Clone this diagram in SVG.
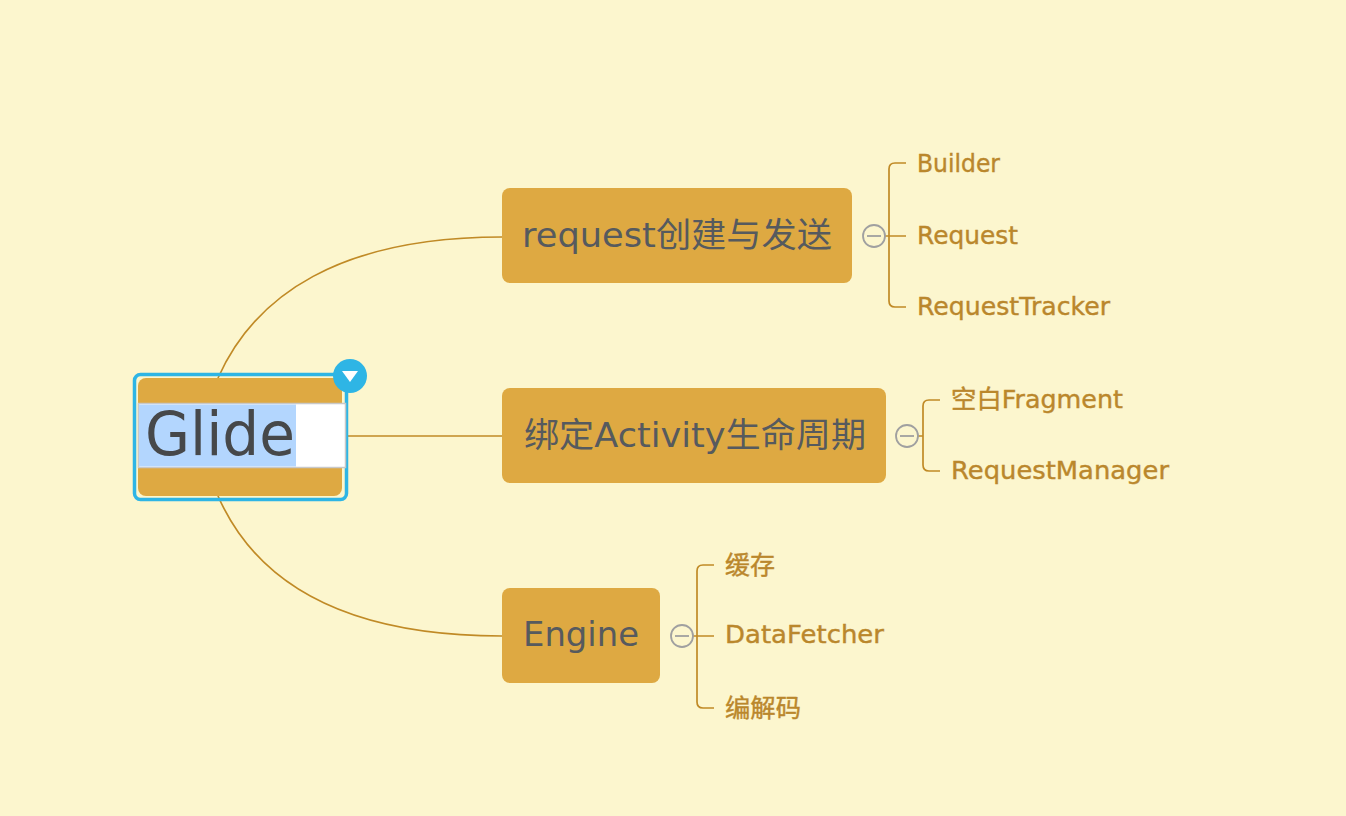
<svg xmlns="http://www.w3.org/2000/svg" width="1346" height="816" viewBox="0 0 1346 816">
<style>
.bg{fill:#fcf6ce}
.topic{fill:#dea942}
.conn{fill:none;stroke:#c08a26;stroke-width:1.7}
.main{font-family:"DejaVu Sans","Noto Sans CJK SC",sans-serif;fill:#565a5e}
.sub{font-family:"DejaVu Sans","Noto Sans CJK SC",sans-serif;fill:#ba872c;stroke:#ba872c;stroke-width:0.4;font-size:25px}
.fold{fill:#fcf6ce;stroke:#a0a0a0;stroke-width:1.8}
.foldbar{stroke:#a0a0a0;stroke-width:1.8}
</style>
<rect class="bg" x="0" y="0" width="1346" height="816"/>
<g id="connectors">
<path class="conn" d="M218,378 C255,295 340,237 502,237"/>
<path class="conn" d="M347,436 L502,436"/>
<path class="conn" d="M218,496 C255,580 340,636 502,636"/>
<path class="conn" d="M885,236 L906,236 M906,163 L895,163 Q889,163 889,169 L889,301 Q889,307 895,307 L906,307"/>
<path class="conn" d="M918,436 L923,436 M940,400 L929,400 Q923,400 923,406 L923,465 Q923,471 929,471 L940,471"/>
<path class="conn" d="M693,636 L714,636 M714,565 L703,565 Q697,565 697,571 L697,702 Q697,708 703,708 L714,708"/>
</g>
<g id="glide">
<rect x="134.5" y="374.5" width="212" height="125" rx="6" fill="none" stroke="#2eb5e5" stroke-width="3.5"/>
<rect class="topic" x="138" y="378" width="204" height="118" rx="8"/>
<rect x="138.5" y="403.5" width="207" height="64" fill="#ffffff" stroke="#c8c8c8" stroke-width="1.5"/>
<rect x="139" y="404.5" width="157" height="62" fill="#b3d6fe"/>
<text class="main" x="145" y="455" font-size="60" textLength="150" lengthAdjust="spacingAndGlyphs" style="fill:#46484a">Glide</text>
<circle cx="350" cy="376" r="17" fill="#2eb5e5"/>
<path d="M342,371 L358,371 L350,382 Z" fill="#ffffff"/>
</g>
<g id="node-request">
<rect class="topic" x="502" y="188" width="350" height="95" rx="8"/>
<text class="main" x="522" y="247" font-size="34" textLength="310" lengthAdjust="spacingAndGlyphs">request创建与发送</text>
<circle class="fold" cx="874" cy="236" r="11"/>
<line class="foldbar" x1="867" y1="236" x2="881" y2="236"/>
</g>
<g id="node-activity">
<rect class="topic" x="502" y="388" width="384" height="95" rx="8"/>
<text class="main" x="524" y="447" font-size="34" textLength="342" lengthAdjust="spacingAndGlyphs">绑定Activity生命周期</text>
<circle class="fold" cx="907" cy="436" r="11"/>
<line class="foldbar" x1="900" y1="436" x2="914" y2="436"/>
</g>
<g id="node-engine">
<rect class="topic" x="502" y="588" width="158" height="95" rx="8"/>
<text class="main" x="523" y="646" font-size="34" textLength="116" lengthAdjust="spacingAndGlyphs">Engine</text>
<circle class="fold" cx="682" cy="636" r="11"/>
<line class="foldbar" x1="675" y1="636" x2="689" y2="636"/>
</g>
<g id="sub-builder"><text class="sub" x="917" y="172" textLength="83" lengthAdjust="spacingAndGlyphs">Builder</text></g>
<g id="sub-request"><text class="sub" x="917" y="244" textLength="101" lengthAdjust="spacingAndGlyphs">Request</text></g>
<g id="sub-requesttracker"><text class="sub" x="917" y="315" textLength="193" lengthAdjust="spacingAndGlyphs">RequestTracker</text></g>
<g id="sub-fragment"><text class="sub" x="951" y="408" textLength="172" lengthAdjust="spacingAndGlyphs">空白Fragment</text></g>
<g id="sub-requestmanager"><text class="sub" x="951" y="479" textLength="218" lengthAdjust="spacingAndGlyphs">RequestManager</text></g>
<g id="sub-cache"><text class="sub" x="725" y="574" textLength="50" lengthAdjust="spacingAndGlyphs">缓存</text></g>
<g id="sub-datafetcher"><text class="sub" x="725" y="643" textLength="159" lengthAdjust="spacingAndGlyphs">DataFetcher</text></g>
<g id="sub-codec"><text class="sub" x="725" y="717" textLength="76" lengthAdjust="spacingAndGlyphs">编解码</text></g>
</svg>
